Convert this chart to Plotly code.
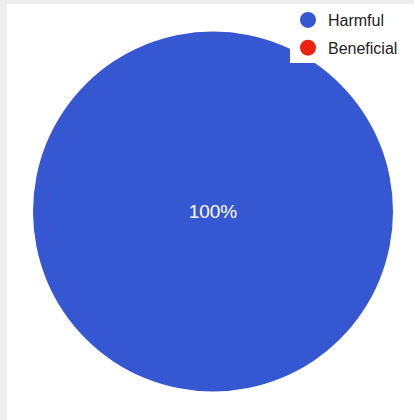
import plotly.graph_objects as go

labels = ["Harmful", "Beneficial"]
values = [100, 0]
colors = ["#3557d1", "#ec2310"]

W, H = 414, 420

fig = go.Figure()
fig.add_trace(go.Pie(
    labels=labels,
    values=values,
    marker=dict(colors=colors, line=dict(width=0)),
    sort=False,
    direction="clockwise",
    textinfo="percent",
    texttemplate=["%{percent:.0%}", ""],
    textposition="inside",
    insidetextorientation="horizontal",
    textfont=dict(color="white", size=19, family="Liberation Sans, Arial"),
    showlegend=False,
    hoverinfo="label+percent",
    domain=dict(x=[33 / W, 393 / W], y=[(H - 392) / H, (H - 31) / H]),
))

for lab, col in zip(labels, colors):
    fig.add_trace(go.Scatter(
        x=[None], y=[None], mode="markers", name=lab, legendgroup=lab,
        marker=dict(symbol="circle", size=16, color=col),
    ))

fig.update_layout(
    width=W, height=H,
    margin=dict(l=0, r=0, t=0, b=0),
    paper_bgcolor="white",
    plot_bgcolor="white",
    xaxis=dict(visible=False),
    yaxis=dict(visible=False),
    font=dict(family="Liberation Sans, Arial", size=16, color="#222222"),
    legend=dict(
        x=288 / W, y=1 - 3 / H, xanchor="left", yanchor="top",
        bgcolor="rgba(0,0,0,0)", font=dict(size=16, color="#222222"),
        itemwidth=30, tracegroupgap=4,
    ),
    shapes=[
        dict(type="rect", xref="paper", yref="paper", x0=0, x1=7 / W, y0=0, y1=1,
             fillcolor="#eeeeee", line=dict(width=0), layer="above"),
        dict(type="rect", xref="paper", yref="paper", x0=0, x1=1, y0=1 - 4 / H, y1=1,
             fillcolor="#eeeeee", line=dict(width=0), layer="above"),
        dict(type="rect", xref="paper", yref="paper", x0=290 / W, x1=401 / W,
             y0=1 - 63 / H, y1=1 - 4 / H,
             fillcolor="white", line=dict(width=0), layer="above"),
    ],
)

fig.write_html("out.html", config={"displayModeBar": False},
               post_script="document.body.style.margin='0';")
